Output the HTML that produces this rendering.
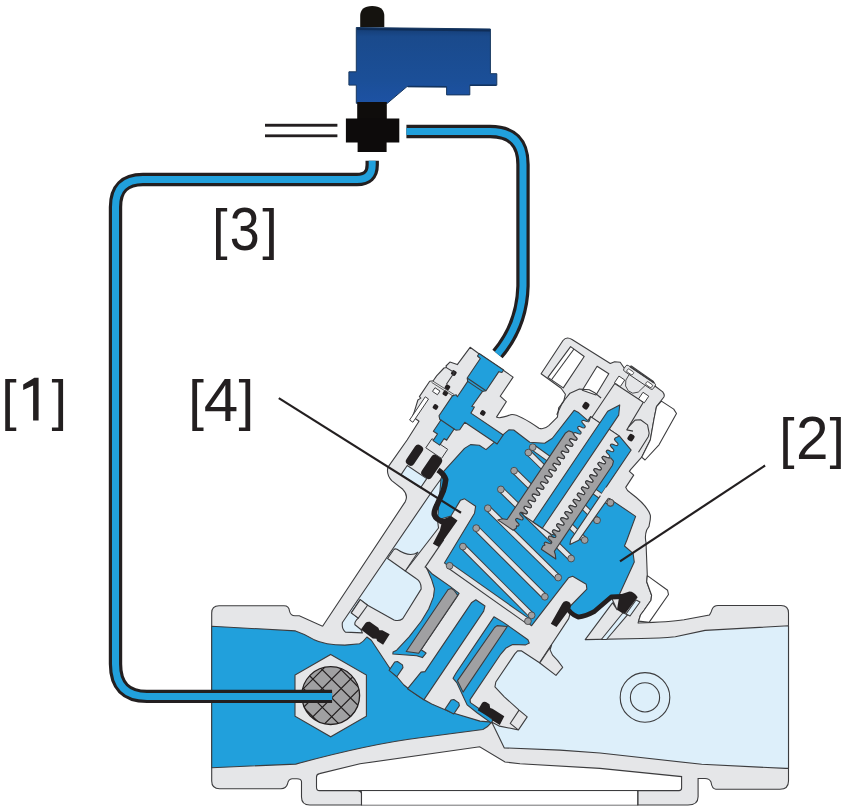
<!DOCTYPE html>
<html><head><meta charset="utf-8"><style>
html,body{margin:0;padding:0;background:#fff;}
svg{display:block;}
text{font-family:"Liberation Sans",sans-serif;}
</style></head><body>
<svg width="846" height="812" viewBox="0 0 846 812">
<path d="M211.7,613 Q211.7,605.8 219,605.8 L284,605.8 Q289,605.8 289.5,611 Q290.5,615.8 295,615.8 L299.3,615.8 L322.5,626.2 L450,620 L638,623 Q670,622 684,619.8 L709.4,615.1 Q711.5,612 712,609.5 Q713.5,605.5 718,605.5 L781,605.5 Q788.5,605.5 788.5,613 L788.5,781 Q788.5,789.2 780,789.2 L715.8,789.2 Q712,789 711,782 Q709.5,778.5 705,778.5 L698.1,778.5 L698.1,796.7 Q698,805 688,805 L309.8,805 Q301.5,805 301.5,797 L301.5,781.5 Q301,778.7 297,778.7 L292,778.7 Q288.5,779 287.5,784 Q286,788.7 281,788.7 L219.6,788.7 Q211.7,788.7 211.7,781 Z" fill="#e5e6e8" stroke="#3c3c3e" stroke-width="1.1"/>
<path d="M316.5,777 Q316.5,774.2 319.5,773.6 L360,763.8 L479.7,746.8 L505,762 L520,763.7 L600,768.4 L681.6,776.6 L681.6,788 Q681.6,790.6 679,790.6 L319.5,790.6 Q316.5,790.6 316.5,787.5 Z" fill="#fff" stroke="#3c3c3e" stroke-width="1.1"/>
<path d="M361.5,805.2 L361.5,793.5 Q361.5,790.6 358.5,790.6 M637.8,805.2 L637.8,790.6" fill="none" stroke="#3c3c3e" stroke-width="1.1"/>
<rect x="362" y="791.2" width="275.3" height="13.4" fill="#fff"/>
<path d="M361.5,805.2 L361.5,793.5 Q361.5,790.6 358.5,790.6" fill="none" stroke="#3c3c3e" stroke-width="1.1"/>
<path d="M637.8,805.2 L637.8,790.6" fill="none" stroke="#3c3c3e" stroke-width="1.1"/>
<path d="M322.6,626.3 L405.3,501.6 Q408.5,495 402.8,489.3 L391.7,480.6 Q386,474 388,467.1 L407.1,440 L419,421.2 L412.5,416.5 L414.4,411.4 L417.9,400 L420.8,398.1 L419.4,396.6 L429.7,381.3 L433.2,380.8 L436.6,375.9 L444,368 L446.5,367.5 L446,366 L449.9,362.1 L457.3,364.6 L470.1,347.3 L479,353.7 L503.3,370.3 L513.1,377.1 L500.2,396.2 L506.3,401.7 L496.5,417.1 Q500,419 510.6,414.7 C516,413 530,422 539,428.2 Q544,430 548.8,425.7 L557.4,417.1 L558.7,407.9 L563.6,401.7 L565.4,394.3 L561.1,388.2 L541.1,373.7 L563,340.5 Q566.5,336 572,339.5 L610.3,363.5 L614.6,361.7 L620.2,362.3 L624.5,368.5 L631.3,366 L653.4,381.4 L655.3,386.3 L662.7,391.9 Q665,395 663.9,397 L656.5,406.7 L654,419 L650.3,440 L641.7,457.2 L630.6,469.6 L629.4,471.4 L633.7,475.1 L625.7,487.4 Q627,491 630.6,493 C640,500 648,508 650.3,515.1 C651,520 649,524 649.1,526.2 L646.7,530 Q644.5,536 646,542.3 L647.3,575.6 L646.7,581.7 L651.6,595.3 L651,600.2 L644.2,610 L640.5,615 L638.6,621.1 L638,623 L620,650 L330,650 Z" fill="#e5e6e8"/>
<path d="M322.6,626.3 L405.3,501.6 Q408.5,495 402.8,489.3 L391.7,480.6 Q386,474 388,467.1 L407.1,440 L419,421.2 L412.5,416.5 L414.4,411.4 L417.9,400 L420.8,398.1 L419.4,396.6 L429.7,381.3 L433.2,380.8 L436.6,375.9 L444,368 L446.5,367.5 L446,366 L449.9,362.1 L457.3,364.6 L470.1,347.3 L479,353.7 L503.3,370.3 L513.1,377.1 L500.2,396.2 L506.3,401.7 L496.5,417.1 Q500,419 510.6,414.7 C516,413 530,422 539,428.2 Q544,430 548.8,425.7 L557.4,417.1 L558.7,407.9 L563.6,401.7 L565.4,394.3 L561.1,388.2 L541.1,373.7 L563,340.5 Q566.5,336 572,339.5 L610.3,363.5 L614.6,361.7 L620.2,362.3 L624.5,368.5 L631.3,366 L653.4,381.4 L655.3,386.3 L662.7,391.9 Q665,395 663.9,397 L656.5,406.7 L654,419 L650.3,440 L641.7,457.2 L630.6,469.6 L629.4,471.4 L633.7,475.1 L625.7,487.4 Q627,491 630.6,493 C640,500 648,508 650.3,515.1 C651,520 649,524 649.1,526.2 L646.7,530 Q644.5,536 646,542.3 L647.3,575.6 L646.7,581.7 L651.6,595.3 L651,600.2 L644.2,610 L640.5,615 L638.6,621.1 L638,623" fill="none" stroke="#3c3c3e" stroke-width="1.1" stroke-linejoin="round"/>
<path d="M661.4,401.1 L673.7,409.1 L676.5,413.5 L659,444.8 L645,460 L641.7,457.2 L650.3,440 L654,419 L656.5,406.7 Z" fill="#fff" stroke="#3c3c3e" stroke-width="1.1" stroke-linejoin="round"/>
<path d="M647.3,575.6 L667.6,590.3 L668.5,594.5 L649.1,622.4 L638.6,621.1 L640.5,615 L644.2,610 L651,600.2 L651.6,595.3 L646.7,581.7 Z" fill="#fff" stroke="#3c3c3e" stroke-width="1.1" stroke-linejoin="round"/>
<path d="M547.9,377.4 L570.6,346.6 L584.2,356.5 L563.3,387.9 Z" fill="#fff" stroke="#3c3c3e" stroke-width="1.1" stroke-linejoin="round"/>
<path d="M551.5,379.8 L574,349" fill="none" stroke="#3c3c3e" stroke-width="1.1" stroke-linejoin="round"/>
<path d="M582.3,390.3 L597.1,366.3 L608.8,373.7 L596,395 Z" fill="#fff" stroke="#3c3c3e" stroke-width="1.1" stroke-linejoin="round"/>
<path d="M342.4,622.5 L433,490 L441,479 L444,486 L437.5,520 L438.5,528 L405.3,571 L416.4,578.8 Q421.5,582 421.1,589.1 L402.7,618.7 Q399,621.5 394,619.9 L367.6,605.2 L360.2,599.6 L351.3,612.9 L358.3,618.1 Q354,622 355,624.7 L360.9,629.5 L362.4,632.9 L345.4,632.1 Q341.5,629 342.4,622.5 Z" fill="#ddeffa" stroke="#3c3c3e" stroke-width="1.1" stroke-linejoin="round"/>
<path d="M387.6,558.5 L393.5,550 Q395,548.3 397,549.3 Q409.7,558 417.9,552.2 L405.3,571 Z" fill="#e5e6e8" stroke="#3c3c3e" stroke-width="1.1" stroke-linejoin="round"/>
<path d="M360.2,599.6 L351.3,612.9 L358.3,618.1 L367.6,605.2 Z" fill="#e5e6e8" stroke="#3c3c3e" stroke-width="1.1" stroke-linejoin="round"/>
<path d="M443.47,471.69 L464.51,448.37 L470.55,444.6 L479.31,445.2 L486.0,449.59 L500.16,437.19 L508.82,429.88 L513.73,429.94 L529.75,442.31 L544.64,443.31 L552.38,438.27 L574.11,410.35 L578.06,412.18 L587.92,420.63 L590.6,416.65 L619.45,436.11 L631.16,450.04 L600.41,495.64 L609.74,498.8 L613.88,501.59 L635.63,516.38 L626.91,540.05 L624.46,546.0 L633.1,553.4 L634.28,562.03 L619.6,593.98 L622.02,596.47 L611.18,596.99 L602.96,603.99 L594.65,611.29 L586.06,615.99 L578.06,617.11 L570.04,613.99 L569.16,607.25 L586.87,589.04 L586.23,584.26 L572.65,576.31 L568.48,577.84 L531.61,625.71 L527.14,622.33 L449.03,566.63 L444.42,562.92 L474.53,513.27 L475.63,506.28 L464.6,498.85 L460.46,500.15 L450.94,516.05 L437.44,519.97 L440.99,478.94 Z" fill="#21a0dc" stroke="#3c3c3e" stroke-width="1.1" stroke-linejoin="round"/>
<path d="M788.5,625.7 L705.1,630.4 Q690,633.6 675.3,636.8 Q660,638.5 641.3,638.5 L585.2,639.6 L612.5,602.8 L617,609.7 L611.2,597 L603,604 L594.6,611.3 L586,616 L578.1,617.1 L570,614 L568.7,618.6 L539.54,662.78 L521.6,650.92 L517.56,650.84 L514.82,653.82 L495.81,682.01 L494.95,686.86 L504.3,696.79 L519.07,710.12 L527.21,716.82 L518.43,729.84 L499.56,726.16 L491.7,722.1 L504.3,747.9 L560,750.1 L600,753 L701.7,764.3 L785.6,768.4 L788.5,768.4 Z" fill="#ddeffa" stroke="#3c3c3e" stroke-width="1.1" stroke-linejoin="round"/>
<path d="M211.7,626.2 L295.5,630.9 Q305,634 313.5,639.4 Q325,645 345,645.1 L359.6,643.7 Q363.3,641.9 366.9,637 L371.3,640.3 L390.3,669 L403.9,685 Q418,697 431.7,703.9 L451.4,712.5 L480,721.1 L491.7,722.1 Q488,727 482.9,729.5 L420,737.8 Q370,744 295.8,764.1 L211.7,767.7 Z" fill="#21a0dc" stroke="#3c3c3e" stroke-width="1.1" stroke-linejoin="round"/>
<path d="M528.36,452.59 L597.06,520.28" stroke="#3c3c3e" stroke-width="6.4" stroke-linecap="butt"/><path d="M528.36,452.59 L597.06,520.28" stroke="#e5e6e8" stroke-width="4.4"/><circle cx="528.36" cy="452.59" r="3.4" fill="#a0a0a2" stroke="#3c3c3e" stroke-width="0.8"/><circle cx="597.06" cy="520.28" r="3.4" fill="#a0a0a2" stroke="#3c3c3e" stroke-width="0.8"/>
<path d="M532.72,447.21 L610.49,503.05" stroke="#3c3c3e" stroke-width="6.4" stroke-linecap="butt"/><path d="M532.72,447.21 L610.49,503.05" stroke="#e5e6e8" stroke-width="4.4"/><circle cx="532.72" cy="447.21" r="3.4" fill="#a0a0a2" stroke="#3c3c3e" stroke-width="0.8"/><circle cx="610.49" cy="503.05" r="3.4" fill="#a0a0a2" stroke="#3c3c3e" stroke-width="0.8"/>
<path d="M514.09,470.71 L584.69,540.04" stroke="#3c3c3e" stroke-width="6.4" stroke-linecap="butt"/><path d="M514.09,470.71 L584.69,540.04" stroke="#e5e6e8" stroke-width="4.4"/><circle cx="514.09" cy="470.71" r="3.4" fill="#a0a0a2" stroke="#3c3c3e" stroke-width="0.8"/><circle cx="584.69" cy="540.04" r="3.4" fill="#a0a0a2" stroke="#3c3c3e" stroke-width="0.8"/>
<path d="M500.87,489.42 L571.14,558.53" stroke="#3c3c3e" stroke-width="6.4" stroke-linecap="butt"/><path d="M500.87,489.42 L571.14,558.53" stroke="#e5e6e8" stroke-width="4.4"/><circle cx="500.87" cy="489.42" r="3.4" fill="#a0a0a2" stroke="#3c3c3e" stroke-width="0.8"/><circle cx="571.14" cy="558.53" r="3.4" fill="#a0a0a2" stroke="#3c3c3e" stroke-width="0.8"/>
<path d="M487.82,508.23 L558.2,577.54" stroke="#3c3c3e" stroke-width="6.4" stroke-linecap="butt"/><path d="M487.82,508.23 L558.2,577.54" stroke="#e5e6e8" stroke-width="4.4"/><circle cx="487.82" cy="508.23" r="3.4" fill="#a0a0a2" stroke="#3c3c3e" stroke-width="0.8"/><circle cx="558.2" cy="577.54" r="3.4" fill="#a0a0a2" stroke="#3c3c3e" stroke-width="0.8"/>
<path d="M476.2,528.14 L544.86,596.77" stroke="#3c3c3e" stroke-width="6.4" stroke-linecap="butt"/><path d="M476.2,528.14 L544.86,596.77" stroke="#e5e6e8" stroke-width="4.4"/><circle cx="476.2" cy="528.14" r="3.4" fill="#a0a0a2" stroke="#3c3c3e" stroke-width="0.8"/><circle cx="544.86" cy="596.77" r="3.4" fill="#a0a0a2" stroke="#3c3c3e" stroke-width="0.8"/>
<path d="M462.93,546.57 L531.62,615.34" stroke="#3c3c3e" stroke-width="6.4" stroke-linecap="butt"/><path d="M462.93,546.57 L531.62,615.34" stroke="#e5e6e8" stroke-width="4.4"/><circle cx="462.93" cy="546.57" r="3.4" fill="#a0a0a2" stroke="#3c3c3e" stroke-width="0.8"/><circle cx="531.62" cy="615.34" r="3.4" fill="#a0a0a2" stroke="#3c3c3e" stroke-width="0.8"/>
<path d="M449.59,565.8 L527.92,621.17" stroke="#3c3c3e" stroke-width="6.4" stroke-linecap="butt"/><path d="M449.59,565.8 L527.92,621.17" stroke="#e5e6e8" stroke-width="4.4"/><circle cx="449.59" cy="565.8" r="3.4" fill="#a0a0a2" stroke="#3c3c3e" stroke-width="0.8"/><circle cx="527.92" cy="621.17" r="3.4" fill="#a0a0a2" stroke="#3c3c3e" stroke-width="0.8"/>
<path d="M606.0,487.35 L612.63,491.82 L607.04,500.11 L578.81,540.18 L569.91,544.43 L570.77,539.58 Z" fill="#e5e6e8"/>
<path d="M600.41,495.64 L570.77,539.58 L569.91,544.43 L578.81,540.18 L608.16,498.46" fill="none" stroke="#3c3c3e" stroke-width="1.1" stroke-linejoin="round"/>
<circle cx="610.41" cy="502.63" r="3.4" fill="#a0a0a2" stroke="#3c3c3e" stroke-width="0.8"/>
<path d="M590.6,416.65 L589.4,420.67 L589.03,421.31 L588.48,421.83 L586.73,421.55 L583.44,420.22 L582.44,420.44 L581.99,421.02 L581.7,421.73 L582.63,423.24 L585.09,425.79 L585.26,426.8 L584.89,427.44 L584.34,427.97 L582.59,427.68 L579.3,426.35 L578.3,426.57 L577.85,427.16 L577.57,427.86 L578.5,429.38 L580.96,431.93 L581.12,432.95 L580.75,433.59 L580.2,434.11 L578.44,433.81 L575.15,432.49 L574.16,432.71 L573.7,433.3 L573.42,434.0 L574.37,435.53 L576.82,438.08 L576.98,439.08 L576.61,439.72 L576.06,440.25 L574.29,439.94 L571.01,438.62 L570.02,438.85 L569.57,439.44 L569.29,440.14 L570.24,441.67 L572.69,444.22 L572.84,445.22 L572.47,445.86 L571.92,446.38 L570.14,446.07 L566.87,444.76 L565.88,444.98 L565.43,445.57 L565.16,446.28 L566.11,447.81 L568.56,450.36 L568.71,451.35 L568.33,451.99 L567.78,452.51 L565.99,452.2 L562.72,450.89 L561.75,451.12 L561.29,451.7 L561.02,452.41 L561.97,453.96 L564.41,456.5 L564.56,457.49 L564.19,458.14 L563.63,458.65 L561.84,458.33 L558.57,457.02 L557.6,457.26 L557.15,457.85 L556.87,458.56 L557.85,460.11 L560.28,462.64 L560.42,463.63 L560.05,464.27 L559.5,464.79 L557.69,464.46 L554.43,463.16 L553.46,463.4 L553.01,463.98 L552.74,464.69 L553.72,466.25 L556.15,468.78 L556.29,469.76 L555.91,470.41 L555.36,470.92 L553.54,470.59 L550.29,469.29 L549.33,469.53 L548.87,470.12 L548.6,470.83 L549.59,472.39 L552.01,474.92 L552.15,475.9 L551.78,476.54 L551.22,477.06 L549.39,476.72 L546.15,475.42 L545.19,475.67 L544.73,476.25 L544.45,476.97 L545.46,478.54 L547.88,481.07 L548.0,482.04 L547.63,482.68 L547.07,483.2 L545.24,482.85 L542.0,481.56 L541.04,481.81 L540.59,482.4 L540.32,483.11 L541.34,484.69 L543.74,487.2 L543.87,488.18 L543.49,488.82 L542.93,489.33 L541.09,488.98 L537.85,487.69 L536.91,487.95 L536.45,488.53 L536.19,489.24 L537.21,490.83 L539.61,493.34 L539.73,494.31 L539.36,494.95 L538.79,495.47 L536.94,495.11 L533.71,493.82 L532.77,494.08 L532.31,494.67 L532.05,495.38 L533.08,496.97 L535.47,499.48 L535.59,500.45 L535.22,501.09 L534.65,501.6 L532.79,501.24 L529.57,499.95 L528.62,500.22 L528.17,500.81 L527.9,501.52 L528.95,503.12 L531.34,505.62 L531.45,506.59 L531.07,507.23 L530.51,507.74 L528.64,507.37 L525.42,506.1 L524.49,506.36 L524.03,506.94 L523.77,507.66 L524.82,509.26 L527.21,511.76 L527.31,512.72 L526.94,513.37 L526.37,513.88 L524.48,513.5 L521.28,512.23 L524.61,516.28 L550.8,533.95 L555.81,535.52 L553.43,533.02 L552.37,531.42 L552.64,530.7 L553.09,530.12 L554.02,529.85 L557.24,531.13 L559.12,531.5 L559.68,530.99 L560.05,530.35 L559.94,529.38 L557.56,526.88 L556.51,525.28 L556.77,524.57 L557.23,523.98 L558.17,523.72 L561.38,525.0 L563.25,525.37 L563.82,524.85 L564.19,524.21 L564.09,523.24 L561.69,520.73 L560.65,519.14 L560.92,518.42 L561.37,517.84 L562.32,517.58 L565.54,518.86 L567.4,519.22 L567.96,518.71 L568.33,518.07 L568.22,517.1 L565.82,514.59 L564.79,513.0 L565.06,512.29 L565.51,511.7 L566.46,511.45 L569.69,512.73 L571.54,513.09 L572.1,512.58 L572.47,511.93 L572.35,510.96 L569.94,508.44 L568.93,506.87 L569.19,506.15 L569.65,505.57 L570.6,505.32 L573.83,506.61 L575.67,506.95 L576.24,506.44 L576.61,505.8 L576.48,504.82 L574.07,502.3 L573.07,500.73 L573.33,500.02 L573.79,499.43 L574.74,499.18 L577.99,500.48 L579.82,500.82 L580.38,500.3 L580.75,499.66 L580.62,498.67 L578.21,496.15 L577.2,494.58 L577.48,493.88 L577.93,493.29 L578.89,493.05 L582.14,494.34 L583.96,494.68 L584.52,494.16 L584.89,493.52 L584.76,492.54 L582.34,490.01 L581.34,488.45 L581.61,487.74 L582.07,487.15 L583.03,486.91 L586.29,488.22 L588.1,488.55 L588.66,488.03 L589.03,487.39 L588.89,486.4 L586.46,483.87 L585.48,482.31 L585.75,481.61 L586.21,481.02 L587.18,480.78 L590.43,482.09 L592.24,482.41 L592.79,481.89 L593.17,481.25 L593.03,480.26 L590.59,477.73 L589.62,476.18 L589.89,475.47 L590.35,474.89 L591.32,474.65 L594.59,475.96 L596.38,476.27 L596.94,475.75 L597.31,475.11 L597.16,474.12 L594.72,471.58 L593.76,470.04 L594.03,469.33 L594.49,468.74 L595.47,468.51 L598.74,469.82 L600.52,470.13 L601.08,469.62 L601.45,468.97 L601.29,467.97 L598.84,465.43 L597.9,463.9 L598.17,463.19 L598.63,462.61 L599.61,462.38 L602.89,463.7 L604.66,464.0 L605.21,463.48 L605.59,462.84 L605.43,461.84 L602.97,459.29 L602.03,457.76 L602.31,457.06 L602.76,456.47 L603.76,456.25 L607.03,457.57 L608.81,457.87 L609.35,457.35 L609.73,456.7 L609.56,455.7 L607.1,453.15 L606.17,451.63 L606.45,450.92 L606.9,450.34 L607.9,450.11 L611.19,451.43 L612.95,451.73 L613.5,451.2 L613.87,450.56 L613.7,449.56 L611.24,447.0 L610.31,445.48 L610.59,444.78 L611.05,444.19 L612.05,443.98 L615.34,445.3 L617.09,445.59 L617.63,445.07 L618.01,444.43 L617.83,443.42 L615.37,440.86 L614.45,439.35 L614.73,438.64 L615.18,438.06 L619.45,436.11 Z" fill="#e5e6e8" stroke="#3c3c3e" stroke-width="1.1" stroke-linejoin="round"/>
<path d="M619.73,404.94 L618.68,415.09 L542.35,528.25 L533.06,521.99 L607.72,411.31 Z" fill="#21a0dc" stroke="#3c3c3e" stroke-width="1.1" stroke-linejoin="round"/>
<path d="M565.24,433.32 L568.72,430.85 L572.6,432.25 L573.43,434.02 L574.43,435.59 L576.85,438.13 L576.97,439.1 L576.59,439.75 L576.02,440.25 L574.1,439.86 L570.9,438.6 L569.99,438.89 L569.54,439.48 L569.28,440.21 L570.47,441.9 L572.77,444.36 L572.81,445.28 L572.42,445.92 L571.83,446.41 L569.73,445.9 L566.66,444.73 L565.81,445.06 L565.38,445.66 L565.15,446.41 L566.52,448.22 L568.68,450.59 L568.66,451.46 L568.25,452.09 L567.63,452.57 L565.34,451.93 L562.43,450.86 L561.64,451.23 L561.21,451.83 L561.02,452.6 L562.58,454.55 L564.58,456.79 L564.5,457.64 L564.09,458.26 L563.42,458.72 L560.95,457.94 L558.2,456.99 L557.48,457.39 L557.06,458.02 L556.91,458.81 L558.64,460.88 L560.47,463.01 L560.33,463.82 L559.92,464.43 L559.22,464.87 L556.56,463.96 L553.99,463.14 L553.31,463.57 L552.89,464.19 L552.79,465.02 L554.7,467.21 L556.34,469.21 L556.17,470.0 L555.75,470.61 L554.99,471.0 L552.17,469.99 L549.77,469.28 L549.14,469.74 L548.74,470.37 L548.68,471.23 L550.77,473.53 L552.22,475.42 L552.01,476.17 L551.58,476.78 L550.77,477.13 L547.78,476.01 L545.58,475.43 L544.97,475.92 L544.57,476.54 L544.58,477.46 L546.82,479.86 L548.09,481.62 L547.85,482.35 L547.4,482.95 L546.53,483.26 L543.39,482.04 L541.38,481.58 L540.8,482.09 L540.41,482.72 L540.49,483.68 L542.86,486.17 L543.95,487.81 L543.69,488.53 L543.23,489.12 L542.28,489.38 L539.02,488.08 L537.19,487.74 L536.64,488.26 L536.26,488.91 L536.42,489.91 L538.89,492.48 L539.81,493.99 L539.52,494.7 L539.06,495.28 L538.02,495.49 L534.67,494.12 L533.0,493.9 L532.47,494.43 L532.1,495.09 L532.37,496.16 L534.91,498.78 L535.67,500.19 L535.36,500.88 L534.89,501.46 L533.75,501.59 L530.33,500.18 L528.82,500.06 L528.3,500.61 L527.95,501.28 L528.32,502.42 L530.91,505.07 L531.52,506.37 L531.19,507.06 L530.7,507.62 L529.45,507.68 L526.01,506.25 L524.64,506.22 L524.14,506.79 L523.8,507.45 L524.28,508.68 L526.89,511.34 L527.37,512.56 L527.03,513.23 L526.53,513.79 L525.15,513.75 L521.7,512.33 L520.46,512.39 L519.97,512.96 L519.65,513.64 L520.27,514.96 L522.86,517.6 L523.21,518.74 L522.87,519.4 L522.35,519.96 L520.82,519.82 L517.41,518.42 L516.28,518.56 L515.81,519.14 L515.5,519.83 L516.27,521.25 L518.81,523.86 L519.06,524.93 L518.7,525.58 L518.16,526.12 L516.48,525.88 L516.33,528.19 L513.13,530.25 L497.8,519.91 L502.24,518.69 L507.09,519.54 Z" fill="#a0a0a2" stroke="#3c3c3e" stroke-width="1.1" stroke-linejoin="round"/>
<path d="M612.5,465.2 L613.49,461.04 L610.74,457.98 L608.79,457.87 L606.96,457.53 L603.7,456.23 L602.75,456.49 L602.29,457.08 L602.04,457.8 L603.12,459.44 L605.49,461.93 L605.57,462.89 L605.19,463.52 L604.6,464.03 L602.59,463.57 L599.45,462.35 L598.58,462.66 L598.13,463.26 L597.9,464.0 L599.16,465.75 L601.4,468.16 L601.41,469.07 L601.01,469.69 L600.4,470.19 L598.21,469.6 L595.21,468.48 L594.4,468.83 L593.97,469.44 L593.76,470.19 L595.22,472.08 L597.3,474.38 L597.24,475.24 L596.85,475.87 L596.21,476.33 L593.82,475.62 L590.99,474.61 L590.23,475.0 L589.81,475.61 L589.64,476.4 L591.28,478.4 L593.19,480.59 L593.09,481.42 L592.67,482.04 L591.99,482.47 L589.43,481.65 L586.77,480.75 L586.06,481.18 L585.65,481.79 L585.51,482.6 L587.35,484.73 L589.07,486.8 L588.93,487.59 L588.51,488.22 L587.78,488.62 L585.03,487.67 L582.56,486.89 L581.89,487.35 L581.48,487.97 L581.41,488.82 L583.4,491.06 L584.96,493.01 L584.77,493.78 L584.34,494.38 L583.55,494.75 L580.64,493.68 L578.35,493.04 L577.73,493.52 L577.33,494.15 L577.3,495.03 L579.46,497.39 L580.83,499.2 L580.6,499.95 L580.17,500.55 L579.32,500.89 L576.25,499.71 L574.15,499.2 L573.56,499.69 L573.17,500.33 L573.21,501.25 L575.51,503.71 L576.7,505.4 L576.44,506.13 L576.0,506.73 L575.08,507.01 L571.88,505.75 L569.96,505.36 L569.39,505.86 L569.01,506.51 L569.13,507.48 L571.55,510.02 L572.56,511.59 L572.28,512.3 L571.82,512.9 L570.83,513.12 L567.52,511.79 L565.78,511.51 L565.22,512.04 L564.86,512.69 L565.06,513.73 L567.58,516.32 L568.42,517.79 L568.12,518.48 L567.65,519.07 L566.56,519.22 L563.18,517.85 L561.58,517.67 L561.06,518.22 L560.7,518.87 L561.0,519.98 L563.59,522.61 L564.27,523.97 L563.95,524.66 L563.47,525.23 L562.27,525.32 L558.84,523.91 L557.4,523.83 L556.89,524.39 L556.55,525.06 L556.97,526.24 L559.58,528.9 L560.12,530.15 L559.79,530.83 L559.3,531.39 L557.97,531.41 L554.53,529.98 L553.22,530.0 L552.73,530.56 L552.39,531.24 L552.95,532.51 L555.56,535.17 L555.97,536.34 L555.62,537.01 L555.11,537.56 L553.66,537.48 L550.24,536.07 L549.05,536.17 L548.57,536.74 L548.25,537.43 L548.94,538.79 L551.52,541.43 L551.82,542.52 L551.45,543.18 L550.93,543.72 L549.33,543.55 L545.95,542.16 L544.86,542.33 L544.4,542.91 L544.1,543.62 L544.95,545.08 L542.86,546.09 L541.32,549.27 L555.83,559.05 L555.3,554.47 L554.34,551.42 Z" fill="#a0a0a2" stroke="#3c3c3e" stroke-width="1.1" stroke-linejoin="round"/>
<path d="M425.98,567.36 L427.63,570.29 L431.68,579.65 L434.46,588.77 L433.45,596.89 L428.67,608.98 L421.42,620.98 L409.33,636.59 L396.69,650.14 L393.07,651.92 L392.84,654.05 L416.66,655.76 L422.41,657.6 L426.07,653.07 L421.1,649.71 L459.12,593.34 L450.4,586.61 L432.32,574.06 Z" fill="#21a0dc" stroke="#3c3c3e" stroke-width="1.1" stroke-linejoin="round"/>
<path d="M448.16,589.56 L451.49,588.55 L453.98,590.23 L457.73,595.41 L418.69,653.28 L406.25,651.52 Z" fill="#a0a0a2" stroke="#3c3c3e" stroke-width="1.1" stroke-linejoin="round"/>
<path d="M493.94,616.82 L503.45,622.39 L527.93,639.75 L529.3,643.09 L525.69,644.87 L512.65,644.52 L506.12,647.95 L500.81,654.03 L470.06,699.62 L470.43,702.65 L480.68,709.8 L493.11,720.0 L491.15,722.9 L477.34,712.98 L467.12,704.88 L456.95,682.94 L453.09,678.29 L455.92,673.2 Z" fill="#21a0dc" stroke="#3c3c3e" stroke-width="1.1" stroke-linejoin="round"/>
<path d="M494.58,627.51 L497.08,625.58 L507.29,626.55 L463.05,692.12 L457.51,680.67 Z" fill="#a0a0a2" stroke="#3c3c3e" stroke-width="1.1" stroke-linejoin="round"/>
<path d="M443.69,539.86 L424.81,567.66" fill="none" stroke="#3c3c3e" stroke-width="1.1" stroke-linejoin="round"/>
<path d="M551.59,645.09 L550.07,649.86 L552.53,655.14 L557.5,660.3 L562.68,667.29 L555.97,675.43 L539.79,662.95 Z" fill="#e5e6e8" stroke="#3c3c3e" stroke-width="1.1" stroke-linejoin="round"/>
<path d="M519.07,710.12 L510.2,723.44 L517.63,729.42" fill="none" stroke="#3c3c3e" stroke-width="1.1" stroke-linejoin="round"/>
<path d="M471.41,602.83 L475.87,599.81 L484.99,605.96 L483.68,611.11 L423.85,699.82 L407.44,688.75 L408.27,687.86 L421.06,672.12 L425.0,671.64 Z" fill="#21a0dc" stroke="#3c3c3e" stroke-width="1.1" stroke-linejoin="round"/>
<path d="M389.09,670.34 L394.68,662.05 L397.46,661.51 L402.43,664.87 L402.97,667.64 L396.82,676.76 Z" fill="#21a0dc" stroke="#3c3c3e" stroke-width="1.1" stroke-linejoin="round"/>
<path d="M444.91,709.19 L451.06,700.08 L453.83,699.54 L458.81,702.89 L459.35,705.67 L453.76,713.96 Z" fill="#21a0dc" stroke="#3c3c3e" stroke-width="1.1" stroke-linejoin="round"/>
<rect x="-145.7" y="7" width="9.0" height="23" rx="4" fill="#231f20" transform="translate(541.9,518.9) rotate(34)"/>
<rect x="-126.5" y="6" width="12.0" height="25" rx="4" fill="#231f20" transform="translate(541.9,518.9) rotate(34)"/>
<path d="M407.26,465.47 L426.74,478.62 L420.59,487.73 L401.11,474.59 Z" fill="#ddeffa" stroke="#3c3c3e" stroke-width="1.1" stroke-linejoin="round"/>
<rect x="-136" y="-5" width="19" height="11" rx="0" fill="#e5e6e8" stroke="#3c3c3e" stroke-width="0.9" transform="translate(541.9,518.9) rotate(34)"/>
<path d="M438,470 Q444,474 445.7,479.6 Q445,486 443.3,490.8 L436.8,505.3 Q433.5,512 434.4,514.9 Q436,520 445.7,522.9" fill="none" stroke="#231f20" stroke-width="5.6" stroke-linejoin="round"/>
<path d="M442.7,519.6 L451.1,516.1 L457.5,520.5 L438.8,547.1 L432.9,543.7 L439.8,530.4 Z" fill="#231f20"/>
<path d="M550.8,623.7 L556.5,627 L570.5,608 Q572,603 568.1,601.4 Q564,600 562,604 Z" fill="#231f20"/>
<path d="M566,606 Q570,614 578.1,617.1 Q586,616 594.6,611.3 Q603,604 611.2,597 L622,596.5" fill="none" stroke="#231f20" stroke-width="4.8" stroke-linejoin="round"/>
<path d="M617.8,604.7 L619.5,594.8 L629.4,591.5 Q634,591.5 637.7,597.3 L624.4,614.6 L617,609.7 Z" fill="#231f20"/>
<path d="M601.3,639.5 L622.8,613 L627.7,614.6 L606.5,639.5 Z" fill="#ddeffa" stroke="#3c3c3e" stroke-width="1.1" stroke-linejoin="round"/>
<path d="M626,614 L636,600 L640,602 L630,616 Z" fill="#ddeffa" stroke="#3c3c3e" stroke-width="1.1" stroke-linejoin="round"/>
<path d="M360.9,629.5 L365.5,623 Q367,621.5 369.8,621.8 L378.3,627.7 L379.4,630.3 L382.3,630.3 L389.7,634.3 L383.1,644.7 L377.2,641 L376.4,638.8 L372.7,638.4 Z" fill="#231f20"/>
<path d="M477.7,710.2 L482,703 Q483.5,701 486,702 L489.5,704.3 L490.2,708 L492.5,708.8 L504.3,716.2 L499.8,725 L492.5,720.6 L491.7,718.4 L488,716.5 Z" fill="#231f20"/>
<rect x="-29.8" y="-121.9" width="6.0" height="7.0" rx="2" fill="#231f20" transform="translate(541.9,518.9) rotate(34)"/>
<rect x="25.4" y="-120.7" width="6.0" height="7.0" rx="2" fill="#231f20" transform="translate(541.9,518.9) rotate(34)"/>
<path d="M479.14,353.53 L503.6,370.03 L501.92,372.52 L498.87,371.67 L486.01,390.74 L482.54,391.41 L471.78,406.47 L474.41,407.04 L470.91,413.12 L503.25,434.93 L497.1,444.05 L464.76,422.24 L459.73,429.7 L455.85,430.1 L454.19,428.98 L446.64,440.17 L444.15,438.49 L439.68,445.13 L433.05,440.65 L437.52,434.02 L433.37,431.22 L440.92,420.03 L439.68,419.19 L439.01,415.72 L452.43,395.83 L456.18,394.74 L457.36,396.74 L467.7,381.4 L467.19,378.04 L480.33,358.56 L477.46,356.02 Z" fill="#21a0dc" stroke="#3c3c3e" stroke-width="1.1" stroke-linejoin="round"/>
<path d="M467.7,381.4 L482.54,391.41" fill="none" stroke="#3c3c3e" stroke-width="1.1" stroke-linejoin="round"/>
<path d="M467.19,378.04 L486.01,390.74" fill="none" stroke="#3c3c3e" stroke-width="1.1" stroke-linejoin="round"/>
<path d="M440.92,420.03 L454.19,428.98" fill="none" stroke="#3c3c3e" stroke-width="1.1" stroke-linejoin="round"/>
<rect x="-154.4" y="-58.8" width="5.0" height="5.0" rx="1.5" fill="#231f20" transform="translate(541.9,518.9) rotate(34)"/>
<rect x="-152.8" y="-52.7" width="5.0" height="5.0" rx="1.5" fill="#231f20" transform="translate(541.9,518.9) rotate(34)"/>
<rect x="-153.3" y="-35.8" width="5.0" height="4.9999999999999964" rx="1.5" fill="#231f20" transform="translate(541.9,518.9) rotate(34)"/>
<rect x="-110.7" y="-57.3" width="5.0" height="5.0" rx="1.5" fill="#231f20" transform="translate(541.9,518.9) rotate(34)"/>
<rect x="-157.1" y="-74.2" width="5.0" height="5.0" rx="1.5" fill="#231f20" transform="translate(541.9,518.9) rotate(34)"/>
<rect x="-162" y="-49" width="6" height="4.5" rx="0" fill="#fff" stroke="#3c3c3e" stroke-width="0.9" transform="translate(541.9,518.9) rotate(34)"/>
<rect x="-165" y="-36" width="4" height="28" rx="0" fill="#fff" stroke="#3c3c3e" stroke-width="0.9" transform="translate(541.9,518.9) rotate(34)"/>
<path d="M446.37,367.61 L454.3,372.48 L446.44,384.31" fill="none" stroke="#3c3c3e" stroke-width="1.1" stroke-linejoin="round"/>
<path d="M431.59,382.37 L453.28,396.16" fill="none" stroke="#3c3c3e" stroke-width="0.8" stroke-linejoin="round"/>
<path d="M432.59,380.88 L454.29,394.67" fill="none" stroke="#3c3c3e" stroke-width="0.8" stroke-linejoin="round"/>
<path d="M556.72,414.67 L562.5,402.52 L570.04,393.13 L579.41,389.08 L589.19,389.77 L595.17,393.08 L601.1,398.04" fill="none" stroke="#3c3c3e" stroke-width="1.1" stroke-linejoin="round"/>
<path d="M628.79,426.73 L635.07,420.11 L640.54,419.7 L647.53,424.89 L649.14,433.22 L648.41,436.46 L638.5,452.22" fill="none" stroke="#3c3c3e" stroke-width="1.1" stroke-linejoin="round"/>
<path d="M591.85,417.49 L614.77,383.5 L643.35,402.29 L626.81,429.86 L632.96,431.11" fill="none" stroke="#3c3c3e" stroke-width="1.1" stroke-linejoin="round"/>
<rect x="-16" y="-175.5" width="35.5" height="7.0" rx="2" fill="#e5e6e8" stroke="#3c3c3e" stroke-width="0.9" transform="translate(541.9,518.9) rotate(34)"/>
<path d="M630.09,366.69 L654.13,382.91" fill="none" stroke="#3c3c3e" stroke-width="1.6" stroke-linejoin="round"/>
<rect x="-12.5" y="-173" width="7.0" height="3.5" rx="1.2" fill="#fff" stroke="#3c3c3e" stroke-width="0.8" transform="translate(541.9,518.9) rotate(34)"/>
<rect x="10.3" y="-173" width="7.0" height="3.5" rx="1.2" fill="#fff" stroke="#3c3c3e" stroke-width="0.8" transform="translate(541.9,518.9) rotate(34)"/>
<path d="M629.16,374.51 L625.86,380.12 L625.55,385.95 L628.3,390.81 L632.72,393.2 L638.27,392.12 L645.24,385.36" fill="none" stroke="#3c3c3e" stroke-width="0.9" stroke-linejoin="round"/>
<rect x="-16" y="-161.5" width="7" height="8.0" rx="0" fill="#fff" stroke="#3c3c3e" stroke-width="0.9" transform="translate(541.9,518.9) rotate(34)"/>
<rect x="13" y="-161.5" width="7" height="8.0" rx="0" fill="#fff" stroke="#3c3c3e" stroke-width="0.9" transform="translate(541.9,518.9) rotate(34)"/>
<polygon points="330.7,654.4 366.4,675.0 366.4,716.2 330.7,736.8 295.0,716.2 295.0,675.0" fill="#e5e6e8" stroke="#3c3c3e" stroke-width="1.1"/>
<defs><clipPath id="mc"><circle cx="330.7" cy="695.6" r="28.9"/></clipPath></defs>
<circle cx="330.7" cy="695.6" r="28.9" fill="#a0a0a2"/>
<path d="M228.0,650.6 L318.0,740.6 M195.0,740.6 L285.0,650.6 M246.8,650.6 L336.8,740.6 M213.8,740.6 L303.8,650.6 M265.6,650.6 L355.6,740.6 M232.6,740.6 L322.6,650.6 M284.4,650.6 L374.4,740.6 M251.4,740.6 L341.4,650.6 M303.2,650.6 L393.2,740.6 M270.2,740.6 L360.2,650.6 M322.0,650.6 L412.0,740.6 M289.0,740.6 L379.0,650.6 M340.8,650.6 L430.8,740.6 M307.8,740.6 L397.8,650.6 M359.6,650.6 L449.6,740.6 M326.6,740.6 L416.6,650.6 M378.4,650.6 L468.4,740.6 M345.4,740.6 L435.4,650.6" stroke="#231f20" stroke-width="1.2" clip-path="url(#mc)"/>
<circle cx="330.7" cy="695.6" r="28.9" fill="none" stroke="#231f20" stroke-width="1.3"/>
<circle cx="645" cy="697.4" r="24.8" fill="none" stroke="#3c3c3e" stroke-width="1.1"/>
<circle cx="645" cy="697.4" r="14.6" fill="none" stroke="#3c3c3e" stroke-width="1.1"/>
<path d="M372.2,160.7 L372.2,165 Q372.2,179.5 357,179.5 L143,179.5 Q115.5,179.5 115.5,207 L115.5,664 Q115.5,696.4 147,696.4 L332.1,696.4" fill="none" stroke="#231f20" stroke-width="13.4"/>
<path d="M372.2,160.7 L372.2,165 Q372.2,179.5 357,179.5 L143,179.5 Q115.5,179.5 115.5,207 L115.5,664 Q115.5,696.4 147,696.4 L332.1,696.4" fill="none" stroke="#21a0dc" stroke-width="7"/>
<path d="M406.4,131.5 L490,131.5 Q523,131.5 523,164.5 L523,286 Q522,325 497.5,354" fill="none" stroke="#231f20" stroke-width="13.4"/>
<path d="M406.4,131.5 L490,131.5 Q523,131.5 523,164.5 L523,286 Q522,325 497.5,354" fill="none" stroke="#21a0dc" stroke-width="7"/>
<rect x="265" y="123.8" width="72.4" height="2.9" fill="#231f20"/>
<rect x="265" y="134.4" width="72.4" height="2.8" fill="#231f20"/>
<path d="M360.2,27 L360.2,16 Q360.2,5.9 372.2,5.9 Q384.3,5.9 384.3,16 L384.3,27 Z" fill="#15130f"/>
<defs><linearGradient id="sg" x1="0" y1="0" x2="0" y2="1"><stop offset="0" stop-color="#143c72"/><stop offset="0.12" stop-color="#1a4a8c"/><stop offset="0.7" stop-color="#1b4f98"/><stop offset="1" stop-color="#1d52a4"/></linearGradient></defs>
<path d="M356.3,27.5 L490.4,29 L490.4,73.7 L496.8,73.7 L496.8,85.3 L469.8,85.3 L469.8,94.9 L446.6,94.9 L446.6,86.8 L407,86.6 L387.3,103.3 L356.3,103.3 L356.3,85.1 L348.9,85.1 L348.9,71.8 L356.3,71.8 Z" fill="url(#sg)" stroke="#17375f" stroke-width="1"/>
<path d="M357,29 L490,30.5" stroke="#0f2d57" stroke-width="2"/>
<path d="M408,86.5 L446.6,86.8 M469.8,85.3 L496,85.3" stroke="#12335f" stroke-width="1.6"/>
<rect x="357.2" y="102" width="29.6" height="17" fill="#0f0d0c"/>
<rect x="345.9" y="118.5" width="53.4" height="24" fill="#0d0b0b"/>
<rect x="357.6" y="142" width="29" height="10" fill="#0d0b0b"/>
<path d="M278.8,398.1 L461,512.8" stroke="#231f20" stroke-width="2.2"/>
<path d="M765.1,465.5 L620,561.4" stroke="#231f20" stroke-width="2.2"/>
<text transform="translate(1.16,419.15) scale(0.996,1)" font-size="55.79" fill="#231f20">[</text>
<path d="M38.6,377.7 L38.6,420.6 L33.1,420.6 L33.1,385.6 L23.2,390 L23.2,384.4 L34.4,377.7 Z" fill="#231f20"/>
<text transform="translate(51.55,419.15) scale(1.005,1)" font-size="55.79" fill="#231f20">]</text>
<text transform="translate(212.02,248.37) scale(1.007,1)" font-size="55.69" fill="#231f20">[</text>
<text transform="translate(229.85,250.35) scale(0.880,1)" font-size="61.24" fill="#231f20">3</text>
<text transform="translate(262.35,248.37) scale(1.007,1)" font-size="55.69" fill="#231f20">]</text>
<text transform="translate(188.18,418.81) scale(1.028,1)" font-size="55.04" fill="#231f20">[</text>
<text transform="translate(203.77,420.96) scale(1.015,1)" font-size="61.14" fill="#231f20">4</text>
<text transform="translate(238.55,418.81) scale(1.028,1)" font-size="55.04" fill="#231f20">]</text>
<text transform="translate(779.29,456.81) scale(1.000,1)" font-size="55.04" fill="#231f20">[</text>
<text transform="translate(796.08,458.66) scale(0.952,1)" font-size="61.41" fill="#231f20">2</text>
<text transform="translate(829.56,456.81) scale(1.000,1)" font-size="55.04" fill="#231f20">]</text>
</svg></body></html>
